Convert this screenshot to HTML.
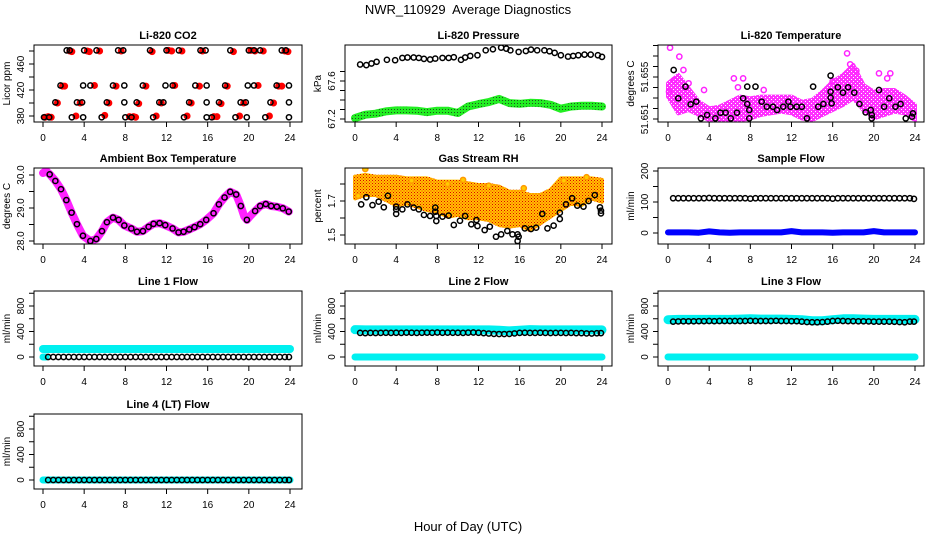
<!DOCTYPE html>
<html><head><meta charset="utf-8"><title>NWR_110929 Average Diagnostics</title>
<style>
html,body{margin:0;padding:0;background:#fff;}
svg{display:block;font-family:"Liberation Sans",Arial,sans-serif;}
.tick{font-size:10px;fill:#000;}
.ptitle{font-size:11px;font-weight:bold;fill:#000;}
</style></head>
<body>
<svg id="chart" width="936" height="540" viewBox="0 0 936 540" xmlns="http://www.w3.org/2000/svg">
<defs>
<pattern id="redDots" width="3" height="3" patternUnits="userSpaceOnUse"><rect x="0" y="0" width="1" height="1" fill="#e00000"/><rect x="1.5" y="1.5" width="1" height="1" fill="#ff2000"/></pattern>
<pattern id="darkDots" width="3" height="3" patternUnits="userSpaceOnUse"><rect x="1" y="1" width="1" height="1" fill="#205020"/></pattern>
<pattern id="whiteDots" width="4" height="4" patternUnits="userSpaceOnUse"><rect x="1" y="1" width="1" height="1" fill="#ffffff"/><rect x="3" y="3" width="1" height="1" fill="#ffffff"/></pattern>
</defs>
<text x="468" y="14" text-anchor="middle" font-size="13" xml:space="preserve">NWR_110929  Average Diagnostics</text>
<text x="468" y="531" text-anchor="middle" font-size="13">Hour of Day (UTC)</text>
</svg>
<script>
// ---------- DATA ----------
const co2T=[2.3,2.6,4.0,5.2,7.3,7.8,10.4,12.0,13.2,15.3,15.8,18.2,20.0,20.5,21.1,23.2,23.6,
 1.7,3.9,4.6,6.8,7.9,9.7,11.9,12.6,14.8,15.9,17.7,19.9,20.5,22.7,23.9,
 1.2,3.3,3.8,6.2,7.9,9.1,11.3,11.7,14.2,15.9,17.1,19.2,19.7,22.1,23.9,
 0.1,0.6,2.8,3.9,5.7,8.0,8.6,10.7,13.7,15.9,16.4,18.7,19.8,21.6,23.9];
const co2V=[481,481,481,481,481,481,481,481,481,481,481,481,481,481,481,481,481,
 427,427,427,427,427,427,427,427,427,427,427,427,427,427,427,
 401,401,401,401,401,401,401,401,401,401,401,401,401,401,401,
 378,378,378,378,378,378,378,378,378,378,378,378,378,378,378];
const co2RedT=[2.6,2.8,4.3,4.5,5.5,7.6,10.6,12.2,12.5,13.5,15.5,18.5,20.2,20.6,21.4,23.5,23.8,
 1.9,2.1,5.0,7.1,10.0,12.8,15.2,17.9,20.9,22.9,23.2,
 1.4,3.6,6.4,9.3,11.5,14.4,17.3,19.5,22.4,
 0.2,0.5,0.8,3.2,6.0,8.4,8.8,9.0,11.0,14.0,16.6,16.9,19.1,22.0];
const co2RedV=[480,479,480,479,480,480,479,481,480,480,480,479,481,480,480,480,479,
 426,426,427,426,426,427,426,426,427,426,426,
 400,400,400,399,400,400,399,400,400,
 378,379,378,380,381,379,379,378,380,380,379,379,380,380];

const presT=[0.5,1.1,1.6,2.1,3.1,3.9,4.6,5.1,5.7,6.2,6.7,7.3,7.8,8.5,9.1,9.6,10.3,10.7,11.2,11.9,12.7,13.4,14.2,14.7,15.1,15.9,16.6,17.1,17.7,18.4,18.9,19.4,20.0,20.7,21.2,21.7,22.3,22.9,23.6,24.0];
const presV=[67.774,67.767,67.784,67.802,67.823,67.819,67.843,67.847,67.847,67.843,67.833,67.826,67.836,67.843,67.843,67.850,67.823,67.847,67.864,67.871,67.923,67.934,67.951,67.941,67.923,67.906,67.916,67.930,67.923,67.923,67.913,67.896,67.871,67.857,67.864,67.871,67.878,67.878,67.871,67.854];
const hours=[0,1,2,3,4,5,6,7,8,9,10,11,12,13,14,15,16,17,18,19,20,21,22,23,24];
const presGreenV=[67.210,67.245,67.256,67.280,67.290,67.290,67.287,67.273,67.287,67.287,67.263,67.332,67.357,67.378,67.412,67.367,67.360,67.371,67.367,67.350,67.308,67.332,67.339,67.339,67.332];

const tempHi=[51.65440,51.65519,51.65392,51.65265,51.65202,51.65217,51.65265,51.65313,51.65297,51.65313,51.65313,51.65313,51.65313,51.65265,51.65281,51.65360,51.65456,51.65519,51.65614,51.65424,51.65360,51.65376,51.65376,51.65313,51.65233];
const tempLo=[51.65313,51.65154,51.65186,51.65138,51.65090,51.65090,51.65090,51.65090,51.65106,51.65138,51.65154,51.65170,51.65154,51.65106,51.65090,51.65138,51.65186,51.65233,51.65297,51.65186,51.65106,51.65138,51.65170,51.65154,51.65090];
const tempMagT=[0.2,1.1,1.5,6.4,7.3,6.8,3.5,17.4,17.7,20.5,21.6,21.3,9.3,0.1,0.6,2.0,16.0,18.3];
const tempMagV=[51.65779,51.65694,51.65567,51.65487,51.65487,51.65402,51.65376,51.65725,51.65621,51.65535,51.65535,51.65487,51.65376,51.65360,51.65470,51.65440,51.65460,51.65560];
const tempT=[0.55,1.0,1.7,2.2,2.75,3.2,3.8,4.6,5.1,5.6,6.1,6.7,7.3,7.7,7.7,7.9,7.9,8.5,9.1,9.6,10.2,10.6,11.2,11.7,11.9,12.5,13.0,13.5,14.1,14.6,15.1,15.8,15.8,15.8,15.9,16.5,17.0,17.5,18.1,18.6,19.2,19.7,19.8,19.8,20.5,21.0,21.5,22.1,22.6,23.1,23.7,23.8];
const tempV=[51.65567,51.65297,51.65408,51.65240,51.65265,51.65106,51.65138,51.65106,51.65160,51.65160,51.65106,51.65160,51.65297,51.65408,51.65243,51.65186,51.65106,51.65408,51.65265,51.65217,51.65217,51.65186,51.65217,51.65265,51.65217,51.65217,51.65217,51.65106,51.65408,51.65217,51.65243,51.65513,51.65360,51.65303,51.65249,51.65402,51.65351,51.65402,51.65351,51.65243,51.65163,51.65186,51.65138,51.65106,51.65376,51.65217,51.65297,51.65217,51.65243,51.65106,51.65122,51.65154];

const ambT=[0.65,1.20,1.75,2.27,2.78,3.30,3.88,4.60,5.18,5.73,6.21,6.80,7.35,7.90,8.58,9.13,9.71,10.26,10.74,11.33,11.88,12.59,13.17,13.66,14.21,14.72,15.28,15.86,16.57,17.09,17.64,18.19,18.77,19.22,19.81,20.61,21.10,21.65,22.17,22.72,23.30,23.88];
const ambV=[30.02,29.82,29.57,29.24,28.86,28.51,28.16,28.00,28.06,28.30,28.57,28.71,28.64,28.47,28.38,28.28,28.30,28.43,28.52,28.54,28.48,28.38,28.26,28.28,28.35,28.42,28.51,28.64,28.84,29.11,29.32,29.49,29.41,29.06,28.64,28.91,29.06,29.12,29.06,29.04,28.99,28.89];
const ambMagT=[0.0,0.3,0.65,1.20,1.75,2.27,2.78,3.30,3.88,4.60,5.18,5.73,6.21,6.80,7.35,7.90,8.58,9.13,9.71,10.26,10.74,11.33,11.88,12.59,13.17,13.66,14.21,14.72,15.28,15.86,16.57,17.09,17.64,18.19,18.77,19.22,19.55,19.81,20.2,20.61,21.10,21.65,22.17,22.72,23.30,23.88];
const ambMagV=[30.06,30.12,30.02,29.82,29.57,29.24,28.86,28.51,28.16,28.00,28.06,28.30,28.57,28.71,28.64,28.47,28.38,28.28,28.30,28.43,28.52,28.54,28.48,28.38,28.26,28.28,28.35,28.42,28.51,28.64,28.84,29.11,29.32,29.49,29.41,29.06,28.75,28.64,28.78,28.91,29.06,29.12,29.06,29.04,28.99,28.89];

const rhHi=[1.843,1.853,1.843,1.843,1.843,1.833,1.833,1.833,1.814,1.814,1.814,1.804,1.794,1.794,1.784,1.755,1.755,1.735,1.735,1.765,1.833,1.833,1.833,1.833,1.824];
const rhLo=[1.716,1.735,1.735,1.706,1.676,1.686,1.667,1.647,1.637,1.608,1.618,1.598,1.598,1.588,1.559,1.549,1.559,1.529,1.569,1.608,1.647,1.686,1.676,1.716,1.696];
const rhOutT=[1.0,10.5,16.4,0.3,5.5,9.0,13.0,20.3,22.5];
const rhOutV=[1.888,1.824,1.775,1.730,1.820,1.800,1.790,1.820,1.840];
const rhT=[0.6,1.1,1.7,2.3,2.8,3.2,4.0,4.0,4.0,4.6,5.1,5.7,6.2,6.7,7.3,7.8,7.8,7.9,7.9,8.5,9.1,9.6,10.2,10.7,11.3,11.8,11.9,12.6,13.1,13.7,14.2,14.8,15.3,15.8,15.9,15.8,16.5,17.1,17.6,18.2,18.7,19.3,19.9,19.9,20.5,21.1,21.6,22.2,22.7,23.3,23.8,23.9,23.9];
const rhV=[1.680,1.722,1.676,1.696,1.663,1.731,1.667,1.651,1.624,1.651,1.680,1.661,1.651,1.618,1.612,1.661,1.637,1.612,1.582,1.608,1.614,1.559,1.584,1.612,1.563,1.588,1.553,1.529,1.549,1.490,1.504,1.524,1.504,1.504,1.490,1.465,1.539,1.535,1.543,1.624,1.539,1.555,1.594,1.631,1.680,1.716,1.673,1.667,1.700,1.735,1.663,1.643,1.627];

const halfT=[0.5,1,1.5,2,2.5,3,3.5,4,4.5,5,5.5,6,6.5,7,7.5,8,8.5,9,9.5,10,10.5,11,11.5,12,12.5,13,13.5,14,14.5,15,15.5,16,16.5,17,17.5,18,18.5,19,19.5,20,20.5,21,21.5,22,22.5,23,23.5,23.9];
const sampleV=[112,112,112,112,112,112,112,113,112,112,112,112,112,112,112,111,112,112,112,112,112,112,112,112,112,112,112,112,112,112,112,111,112,112,112,112,112,112,112,112,112,112,112,112,112,112,112,110];
const sampleBlueV=[2,2,2,1,5,2,1,2,2,2,2,2,6,2,2,2,1,2,2,2,6,2,2,2,2];
const line1V=[0,0,0,0,0,0,0,0,0,0,0,0,0,0,0,0,0,0,0,0,0,0,0,0,0,0,0,0,0,0,0,0,0,0,0,0,0,0,0,0,0,0,0,0,0,0,0,0];
const line1CyanV=[125,125,125,125,125,125,125,125,125,125,125,125,125,125,125,125,125,125,125,125,125,125,125,125,125];
const line2V=[378,375,378,376,378,380,378,380,378,382,380,378,380,382,380,384,380,382,380,380,378,382,384,380,375,368,362,360,360,362,370,378,380,378,378,380,378,376,378,378,376,378,375,375,370,368,372,375];
const line2CyanV=[430,425,425,425,425,425,425,425,425,425,425,425,425,425,420,410,420,430,425,425,425,425,425,425,425];
const line3V=[555,558,560,560,560,562,562,565,562,565,565,565,565,565,565,568,565,565,565,565,568,565,565,562,562,555,548,545,545,548,555,565,568,565,562,562,560,560,558,555,555,555,555,552,548,545,555,555];
const line3CyanV=[585,590,590,590,590,590,590,595,600,595,595,595,590,585,570,570,585,600,600,595,590,590,590,590,590];
const line4V=[0,0,0,0,0,0,0,0,0,0,0,0,0,0,0,0,0,0,0,0,0,0,0,0,0,0,0,0,0,0,0,0,0,0,0,0,0,0,0,0,0,0,0,0,0,0,0,0];
const zeroCyanV=[0,0,0,0,0,0,0,0,0,0,0,0,0,0,0,0,0,0,0,0,0,0,0,0,0];
const xTickVals=[0,4,8,12,16,20,24];

// ---------- LAYOUT ----------
const NS='http://www.w3.org/2000/svg';
const svg=document.getElementById('chart');
const cols=[{b0:34,b1:302,t0:43,t24:290},{b0:345,b1:612,t0:355,t24:602},{b0:658,b1:924,t0:668,t24:915}];
const rows=[{b0:45,b1:122},{b0:168,b1:244},{b0:291,b1:366},{b0:414,b1:489}];
let clipN=0;
function mk(tag,attrs,parent){const e=document.createElementNS(NS,tag);for(const k in attrs)e.setAttribute(k,attrs[k]);(parent||svg).appendChild(e);return e;}

function panel(slug,ci,ri,title,ylab,vA,pA,vB,pB,ticks,labels){
  const c=cols[ci],r=rows[ri];
  const g=mk('g',{});
  
  
  const xs=t=>c.t0+t*(c.t24-c.t0)/24;
  const ys=v=>pA+(v-vA)*(pB-pA)/(vB-vA);
  const id='clip'+(clipN++);
  const cp=mk('clipPath',{id:id},g);mk('rect',{x:c.b0,y:r.b0,width:c.b1-c.b0,height:r.b1-r.b0},cp);
  const plot=mk('g',{'clip-path':'url(#'+id+')'},g);
  
  
  const fr=mk('rect',{x:c.b0,y:r.b0,width:c.b1-c.b0,height:r.b1-r.b0,fill:'none',stroke:'#000','stroke-width':1},g);
  
  
  const tt=mk('text',{x:(c.b0+c.b1)/2,y:r.b0-6,'text-anchor':'middle',class:'ptitle'},g);tt.textContent=title;
  
  
  const xa=mk('g',{},g);
  
  
  mk('line',{x1:xs(0),x2:xs(24),y1:r.b1,y2:r.b1,stroke:'#000'},xa);
  xTickVals.forEach(v=>{
    mk('line',{x1:xs(v),x2:xs(v),y1:r.b1,y2:r.b1+5,stroke:'#000'},xa);
    const t=mk('text',{x:xs(v),y:r.b1+19,'text-anchor':'middle',class:'tick'},xa);t.textContent=v;
    
    
  });
  const ya=mk('g',{},g);
  
  
  mk('line',{x1:c.b0,x2:c.b0,y1:ys(ticks[0]),y2:ys(ticks[ticks.length-1]),stroke:'#000'},ya);
  ticks.forEach(v=>{const y=ys(v);mk('line',{x1:c.b0-5,x2:c.b0,y1:y,y2:y,stroke:'#000'},ya);});
  labels.forEach(l=>{const y=ys(l[0]);const t=mk('text',{x:0,y:0,'text-anchor':'middle',class:'tick',transform:'translate('+(c.b0-10)+','+y+') rotate(-90)'},ya);t.textContent=l[1];
    
    });
  const yl=mk('text',{x:0,y:0,'text-anchor':'middle',class:'tick',transform:'translate('+(c.b0-24)+','+((r.b0+r.b1)/2)+') rotate(-90)'},ya);yl.textContent=ylab;
  
  
  return {xs,ys,plot};
}
function pts(p,T,V,color,name,fill,rad,sw){
  const g=mk('g',{},p.plot);
  
  
  T.forEach((t,i)=>{const c=mk('circle',{cx:p.xs(t),cy:p.ys(V[i]),r:rad||2.6,fill:fill||'none',stroke:color,'stroke-width':sw||1.5},g);
    
    });
}
function band(p,T,V,color,w,name){
  const d=T.map((t,i)=>(i?'L':'M')+p.xs(t).toFixed(1)+' '+p.ys(V[i]).toFixed(1)).join(' ');
  const e=mk('path',{d:d,fill:'none',stroke:color,'stroke-width':w,'stroke-linejoin':'round','stroke-linecap':'round'},p.plot);
  
  
}
function area(p,T,hi,lo,fill,name){
  let d=T.map((t,i)=>(i?'L':'M')+p.xs(t).toFixed(1)+' '+p.ys(hi[i]).toFixed(1)).join(' ');
  for(let i=T.length-1;i>=0;i--)d+=' L'+p.xs(T[i]).toFixed(1)+' '+p.ys(lo[i]).toFixed(1);
  d+=' Z';
  const e=mk('path',{d:d,fill:fill,stroke:fill,'stroke-width':4,'stroke-linejoin':'round'},p.plot);
  
  
}

// CO2
let p=panel('co2',0,0,'Li-820 CO2','Licor ppm',380,116,460,64,[380,400,420,440,460,480],[[380,'380'],[420,'420'],[460,'460']]);
pts(p,co2RedT,co2RedV,'#ff0000','co2-red-series','#ff0000',3,1);
pts(p,co2T,co2V,'#000','co2-black-series');
// Pressure
p=panel('pressure',1,0,'Li-820 Pressure','kPa',67.2,119,67.6,81,[67.2,67.3,67.4,67.5,67.6,67.7],[[67.2,'67.2'],[67.6,'67.6']]);
band(p,hours,presGreenV,'#22ee22',8,'pressure-green-series');
band(p,hours,presGreenV,'url(#darkDots)',7,'pressure-green-texture');
pts(p,presT,presV,'#000','pressure-black-series');
// Temperature
p=panel('li820-temp',2,0,'Li-820 Temperature','degrees C',51.651,119,51.655,77,[51.651,51.652,51.653,51.654,51.655,51.656,51.657,51.658],[[51.651,'51.651'],[51.655,'51.655']]);
area(p,hours,tempHi,tempLo,'#ff30ff','temp-magenta-band');
area(p,hours,tempHi,tempLo,'url(#whiteDots)','temp-magenta-texture');
pts(p,tempMagT,tempMagV,'#ff22ff','temp-magenta-outliers');
pts(p,tempT,tempV,'#000','temp-black-series');
// Ambient
p=panel('ambient',0,1,'Ambient Box Temperature','degrees C',28.0,241,30.0,175,[28.0,28.5,29.0,29.5,30.0],[[28.0,'28.0'],[29.0,'29.0'],[30.0,'30.0']]);
band(p,ambMagT,ambMagV,'#ff22ff',8,'ambient-magenta-series');
pts(p,ambT,ambV,'#000','ambient-black-series');
// RH
p=panel('rh',1,1,'Gas Stream RH','percent',1.5,235,1.7,201,[1.5,1.6,1.7,1.8],[[1.5,'1.5'],[1.7,'1.7']]);
area(p,hours,rhHi,rhLo,'#ffc400','rh-orange-band');
area(p,hours,rhHi,rhLo,'url(#redDots)','rh-orange-texture');
pts(p,rhOutT,rhOutV,'#ff9900','rh-orange-outliers','#ffcc00');
pts(p,rhT,rhV,'#000','rh-black-series');
// Sample flow
p=panel('sample-flow',2,1,'Sample Flow','ml/min',0,233,200,171,[0,50,100,150,200],[[0,'0'],[100,'100'],[200,'200']]);
band(p,hours,sampleBlueV,'#0000ff',6,'sample-blue-series');
pts(p,halfT,sampleV,'#000','sample-black-series');
// Line flows
const fT=[0,200,400,600,800,1000],fL=[[0,'0'],[400,'400'],[800,'800']];
p=panel('line1',0,2,'Line 1 Flow','ml/min',0,357,800,306,fT,fL);
band(p,hours,line1CyanV,'#00f0f0',8,'line1-cyan-series');
band(p,[0,0.3],[0,0],'#00f0f0',7,'line1-cyan-zero');
pts(p,halfT,line1V,'#000','line1-black-series');
p=panel('line2',1,2,'Line 2 Flow','ml/min',0,357,800,306,fT,fL);
band(p,hours,zeroCyanV,'#00f0f0',7,'line2-cyan-zero');
band(p,hours,line2CyanV,'#00f0f0',9,'line2-cyan-series');
pts(p,halfT,line2V,'#000','line2-black-series');
p=panel('line3',2,2,'Line 3 Flow','ml/min',0,357,800,306,fT,fL);
band(p,hours,zeroCyanV,'#00f0f0',7,'line3-cyan-zero');
band(p,hours,line3CyanV,'#00f0f0',9,'line3-cyan-series');
pts(p,halfT,line3V,'#000','line3-black-series');
p=panel('line4',0,3,'Line 4 (LT) Flow','ml/min',0,480,800,429,fT,fL);
band(p,hours,zeroCyanV,'#00f0f0',7,'line4-cyan-series');
pts(p,halfT,line4V,'#000','line4-black-series');
</script>
</body></html>
